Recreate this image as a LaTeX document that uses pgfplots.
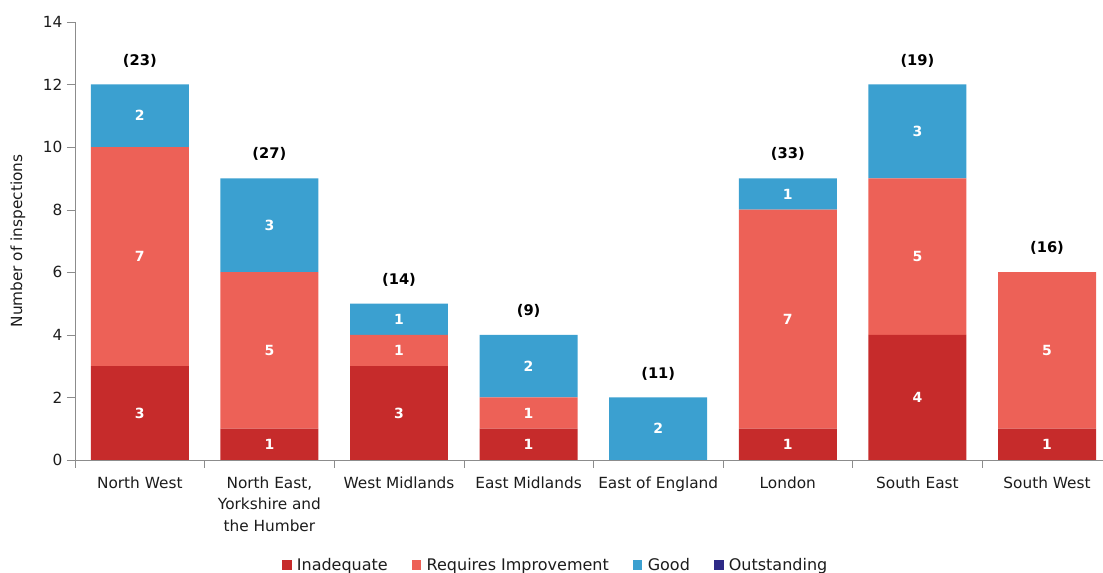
\documentclass[border=0pt]{standalone}
\usepackage{fontspec}
\setmainfont{DejaVu Sans}
\usepackage{pgfplots}
\usepackage{pgfplotstable}
\pgfplotsset{compat=1.18}

\definecolor{inad}{HTML}{C62B2B}
\definecolor{reqi}{HTML}{ED6157}
\definecolor{good}{HTML}{3BA0D0}
\definecolor{outs}{HTML}{2D2A87}
\definecolor{axgray}{HTML}{8C8C8C}
\definecolor{txt}{HTML}{1C1C1C}

% region, inadequate, requires improvement, good, outstanding, total inspections, bar height
\pgfplotstableread{
x inad ri good outs total top
0 3 7 2 0 23 12
1 1 5 3 0 27 9
2 3 1 1 0 14 5
3 1 1 2 0 9 4
4 0 0 2 0 11 2
5 1 7 1 0 33 9
6 4 5 3 0 19 12
7 1 5 0 0 16 6
}\regions

\pgfplotsset{
  segval/.code={%
    \pgfkeys{/pgf/fpu=true,/pgf/fpu/output format=fixed}%
    \pgfmathsetmacro\segv{\pgfplotspointmeta}%
    \pgfkeys{/pgf/fpu=false}%
  },
  seg/.style={
    point meta=explicit,
    nodes near coords={\ifdim\segv pt>0.1pt\pgfmathprintnumber{\pgfplotspointmeta}\fi},
    nodes near coords align={center},
    every node near coord/.style={/pgfplots/segval, anchor=center,
      font=\bfseries\fontsize{10.5}{13}\selectfont, text=white},
  },
  same frame/.style={x=97.2pt, y=23.47pt, xmin=-0.5, xmax=7.5, ymin=0, ymax=14},
}

\begin{document}
\begin{tikzpicture}
\begin{axis}[
  same frame,
  ybar stacked, bar width=0.756,
  axis lines*=left,
  axis line style={axgray},
  tick style={axgray},
  tick align=outside,
  major tick length=6pt,
  ytick={0,2,...,14},
  xtick={-0.5,0.5,...,7.5},
  xticklabels={},
  extra x ticks={0,1,...,7},
  extra x tick labels={North West,{North East,\\Yorkshire and\\the Humber},West Midlands,East Midlands,East of England,London,South East,South West},
  extra x tick style={major tick length=0pt,
    xticklabel style={align=center, yshift=-9pt}},
  xticklabel style={font=\fontsize{11.5}{16}\selectfont, text=txt},
  yticklabel style={font=\fontsize{11.5}{14}\selectfont, text=txt},
  /pgf/number format/assume math mode=true,
  ylabel={Number of inspections},
  ylabel style={at={(axis description cs:-0.055,0.5)}, anchor=center,
    font=\fontsize{11.5}{13}\selectfont, text=txt},
  legend style={at={(0.4639,-0.2397)}, anchor=center, draw=none, fill=none,
    legend columns=-1, font=\fontsize{12}{14}\selectfont, text=txt,
    /tikz/every odd column/.append style={column sep=2pt},
    /tikz/every even column/.append style={column sep=16pt}},
  legend image code/.code={\fill[#1] (0pt,-3.6pt) rectangle (7.2pt,3.6pt);},
]
\addplot[fill=inad, draw=none, seg] table[x=x, y=inad, meta=inad]{\regions};
\addlegendentry{Inadequate}
\addplot[fill=reqi, draw=none, seg] table[x=x, y=ri, meta=ri]{\regions};
\addlegendentry{Requires Improvement}
\addplot[fill=good, draw=none, seg] table[x=x, y=good, meta=good]{\regions};
\addlegendentry{Good}
\addplot[fill=outs, draw=none] table[x=x, y=outs]{\regions};
\addlegendentry{Outstanding}
\coordinate (O) at (axis cs:-0.5,0);
\end{axis}
% totals above the bars
\begin{axis}[same frame, hide axis]
\addplot[draw=none, point meta=explicit symbolic,
  nodes near coords={(\pgfplotspointmeta)},
  every node near coord/.style={anchor=center, yshift=18pt,
    font=\bfseries\fontsize{11}{13}\selectfont, text=black}]
  table[x=x, y=top, meta=total]{\regions};
\end{axis}
\pgfresetboundingbox
\path ([shift={(-56.25pt,345pt)}]O) rectangle ([shift={(771pt,-84.75pt)}]O);
\end{tikzpicture}
\end{document}
